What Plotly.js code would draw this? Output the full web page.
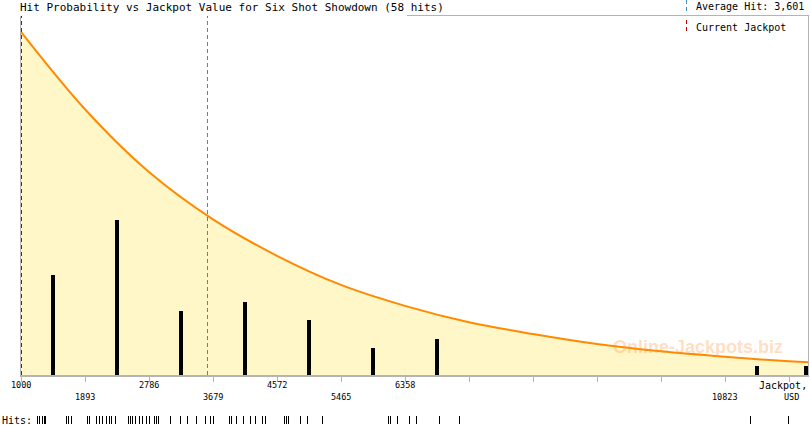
<!DOCTYPE html>
<html>
<head>
<meta charset="utf-8">
<script src="https://cdn.plot.ly/plotly-3.0.1.min.js"></script>
<style>
html,body{margin:0;padding:0;background:#fff;}
#chart{width:810px;height:425px;}
#chart .points path, #chart .shapelayer path, #chart .bars path {shape-rendering: crispEdges;}
</style>
</head>
<body>
<div id="chart"></div>
<script>
// ---- data ----
var titleText = "Hit Probability vs Jackpot Value for Six Shot Showdown (58 hits)";
var averageHit = 3601;
var currentJackpot = 1000;

// probability curve (in "hits" units, same scale as bars)
var curveX = [1000, 1893, 2786, 3679, 4572, 5465, 6358, 7251, 8144, 9037, 9930, 10823, 11716, 11995];
var curveY = [37.7, 29.2, 22.3, 17.1, 13.1, 9.9, 7.6, 5.8, 4.5, 3.4, 2.6, 2.0, 1.5, 1.4];

// histogram bars: bin centres and hit counts
var barX = [1446, 2339, 3232, 4125, 5018, 5911, 6804, 11269, 11950];
var barCounts = [11, 17, 7, 8, 6, 3, 4, 1, 1];

// x axis ticks
var tickValues = [1000, 1893, 2786, 3679, 4572, 5465, 6358, 7251, 8144, 9037, 9930, 10823, 11716];
var labelsRow1 = [1000, 2786, 4572, 6358];
var labelsRow2 = [1893, 3679, 5465, 10823];

// individual hits (rug)
var hits = [
  1004, 1034, 1087, 1102, 1117, 1437, 1466, 1496, 1729, 1758, 1860,
  1904, 1962, 2006, 2050, 2093, 2137, 2327, 2356, 2399, 2443, 2487, 2531, 2589, 2647, 2706, 2749, 2778,
  2953, 3085, 3187, 3332, 3449, 3536, 3566,
  3799, 3828, 3915, 4017, 4105, 4192, 4294, 4338,
  4601, 4644, 4673, 4834, 4936, 5155,
  6131, 6160, 6248,
  6423, 6539, 6860, 7152,
  11408, 11948
];

// ---- layout helpers (pixel -> paper) ----
var W = 810, H = 425, ML = 21, MR = 1, MT = 16, MB = 1;
var PW = W - ML - MR, PH = H - MT - MB;
function px(x){ return (x - ML) / PW; }
function py(y){ return (H - MB - y) / PH; }

var xRange = [1000, 11995];
var mono = "DejaVu Sans Mono, monospace";

var traces = [
  {
    x: curveX, y: curveY, type: 'scatter', mode: 'lines',
    line: {color: '#FF8A00', width: 2, shape: 'spline', smoothing: 1},
    fill: 'tozeroy', fillcolor: '#FFF7C8',
    xaxis: 'x', yaxis: 'y', hoverinfo: 'skip'
  },
  {
    x: barX, y: barCounts, type: 'bar', width: 56,
    marker: {color: '#000000', line: {width: 0}},
    xaxis: 'x', yaxis: 'y3', hoverinfo: 'skip'
  },
  {
    x: hits, y: hits.map(function(){return 0.35;}), type: 'scatter', mode: 'markers',
    marker: {symbol: 'line-ns-open', size: 7, color: '#000', line: {color: '#000', width: 1}},
    xaxis: 'x2', yaxis: 'y2', hoverinfo: 'skip'
  }
];

var yMax = 359 / 9.1;
var annotations = [];
labelsRow1.forEach(function(v){
  annotations.push({x: v, xref: 'x', y: py(385), yref: 'paper', text: String(v), showarrow: false,
    xanchor: 'center', yanchor: 'middle', font: {family: mono, size: 8.5, color: '#000'}});
});
labelsRow2.forEach(function(v){
  annotations.push({x: v, xref: 'x', y: py(397), yref: 'paper', text: String(v), showarrow: false,
    xanchor: 'center', yanchor: 'middle', font: {family: mono, size: 8.5, color: '#000'}});
});
annotations.push({x: px(809), xref: 'paper', y: py(385), yref: 'paper', text: 'Jackpot,', showarrow: false,
  xanchor: 'right', yanchor: 'middle', font: {family: mono, size: 10, color: '#000'}});
annotations.push({x: px(791), xref: 'paper', y: py(397), yref: 'paper', text: 'USD', showarrow: false,
  xanchor: 'center', yanchor: 'middle', font: {family: mono, size: 8.5, color: '#000'}});
annotations.push({x: px(0), xref: 'paper', y: py(420), yref: 'paper', text: 'Hits:', showarrow: false,
  xanchor: 'left', yanchor: 'middle', font: {family: mono, size: 10, color: '#000'}});
annotations.push({x: px(694), xref: 'paper', y: py(6), yref: 'paper', text: 'Average Hit: 3,601', showarrow: false,
  xanchor: 'left', yanchor: 'middle', font: {family: mono, size: 10, color: '#000'}});
annotations.push({x: px(694), xref: 'paper', y: py(27), yref: 'paper', text: 'Current Jackpot', showarrow: false,
  xanchor: 'left', yanchor: 'middle', font: {family: mono, size: 10, color: '#000'}});
annotations.push({x: px(698), xref: 'paper', y: py(347), yref: 'paper', text: '<b>Online-Jackpots.biz</b>', showarrow: false,
  xanchor: 'center', yanchor: 'middle', font: {family: 'Liberation Sans, Arial, sans-serif', size: 18, color: 'rgba(255,140,40,0.3)'}});

var shapes = [
  // frame: top right part and right side
  {type: 'line', xref: 'paper', yref: 'paper', x0: px(407), x1: px(808.5), y0: py(15.5), y1: py(15.5), line: {color: '#B4B4B4', width: 1}},
  {type: 'line', xref: 'paper', yref: 'paper', x0: px(808.5), x1: px(808.5), y0: py(15.5), y1: py(375), line: {color: '#B4B4B4', width: 1}},
  // current jackpot and average hit lines
  {type: 'line', xref: 'x', yref: 'paper', x0: currentJackpot, x1: currentJackpot, y0: py(375), y1: py(16), layer: 'above',
    line: {color: '#C00000', width: 1, dash: '4px,3px'}},
  {type: 'line', xref: 'x', yref: 'paper', x0: averageHit, x1: averageHit, y0: py(375), y1: py(16), layer: 'above',
    line: {color: '#3C8CC8', width: 1, dash: '4px,3px'}},
  // legend markers
  {type: 'line', xref: 'paper', yref: 'paper', x0: px(686), x1: px(686), y0: py(0), y1: py(12),
    line: {color: '#3C8CC8', width: 1, dash: '4px,3px'}},
  {type: 'line', xref: 'paper', yref: 'paper', x0: px(686), x1: px(686), y0: py(20), y1: py(33),
    line: {color: '#C00000', width: 1, dash: '4px,3px'}}
];

var layout = {
  width: W, height: H,
  margin: {l: ML, r: MR, t: MT, b: MB, pad: 0},
  paper_bgcolor: '#fff', plot_bgcolor: 'rgba(0,0,0,0)',
  showlegend: false,
  title: {text: titleText, xref: 'container', yref: 'container', x: 20 / W, xanchor: 'left',
    y: 1 - 7 / H, yanchor: 'middle', pad: {t: 0, b: 0, l: 0, r: 0},
    font: {family: mono, size: 11, color: '#000'}},
  xaxis: {range: xRange, domain: [0, 1], anchor: 'y', showgrid: false, zeroline: false,
    showline: true, linecolor: '#B4B4B4', linewidth: 2,
    tickmode: 'array', tickvals: tickValues, showticklabels: false,
    ticks: 'outside', ticklen: 5, tickwidth: 1, tickcolor: '#B4B4B4', fixedrange: true},
  yaxis: {range: [0, yMax], domain: [py(375), 1], showgrid: false, zeroline: false,
    showline: true, linecolor: '#B4B4B4', linewidth: 1, showticklabels: false, ticks: '', fixedrange: true},
  yaxis3: {range: [0, yMax], overlaying: 'y', showgrid: false, zeroline: false, showline: false,
    showticklabels: false, ticks: ''},
  xaxis2: {range: xRange, domain: [px(37), px(37 + (xRange[1] - xRange[0]) * 0.0686)], anchor: 'y2',
    visible: false},
  yaxis2: {range: [0, 1], domain: [0, py(414)], anchor: 'x2', visible: false},
  annotations: annotations,
  shapes: shapes
};

Plotly.newPlot('chart', traces, layout, {displayModeBar: false, staticPlot: true});
</script>
</body>
</html>
